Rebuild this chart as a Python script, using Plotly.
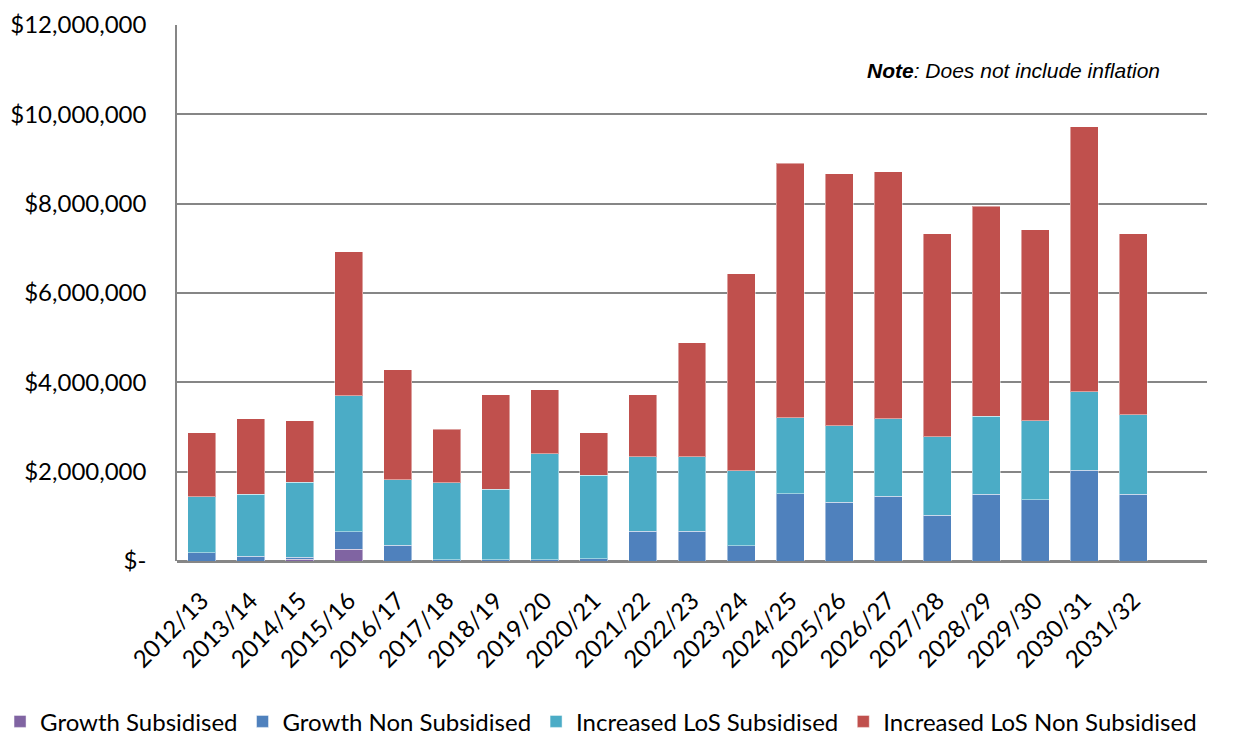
import plotly.graph_objects as go

years = ["2012/13", "2013/14", "2014/15", "2015/16", "2016/17", "2017/18", "2018/19",
         "2019/20", "2020/21", "2021/22", "2022/23", "2023/24", "2024/25", "2025/26",
         "2026/27", "2027/28", "2028/29", "2029/30", "2030/31", "2031/32"]

growth_subsidised = [0, 0, 0.04e6, 0.26e6, 0, 0, 0, 0, 0, 0,
                     0, 0, 0, 0, 0, 0, 0, 0, 0, 0]
growth_non_subsidised = [0.18e6, 0.11e6, 0.04e6, 0.40e6, 0.35e6, 0.03e6, 0.03e6, 0.03e6, 0.05e6, 0.67e6,
                         0.67e6, 0.34e6, 1.51e6, 1.32e6, 1.45e6, 1.02e6, 1.50e6, 1.37e6, 2.03e6, 1.50e6]
los_subsidised = [1.26e6, 1.38e6, 1.68e6, 3.04e6, 1.47e6, 1.72e6, 1.58e6, 2.37e6, 1.87e6, 1.66e6,
                  1.66e6, 1.68e6, 1.70e6, 1.71e6, 1.73e6, 1.76e6, 1.74e6, 1.77e6, 1.76e6, 1.77e6]
los_non_subsidised = [1.43e6, 1.69e6, 1.38e6, 3.22e6, 2.46e6, 1.20e6, 2.11e6, 1.43e6, 0.95e6, 1.39e6,
                      2.56e6, 4.41e6, 5.70e6, 5.64e6, 5.54e6, 4.55e6, 4.70e6, 4.28e6, 5.93e6, 4.06e6]

y_tick_values = [0, 2e6, 4e6, 6e6, 8e6, 10e6, 12e6]
y_tick_labels = ["$-", "$2,000,000", "$4,000,000", "$6,000,000", "$8,000,000",
                 "$10,000,000", "$12,000,000"]

series = [
    ("Growth Subsidised", growth_subsidised, "#8064A2"),
    ("Growth Non Subsidised", growth_non_subsidised, "#4F81BD"),
    ("Increased LoS Subsidised", los_subsidised, "#4BACC6"),
    ("Increased LoS Non Subsidised", los_non_subsidised, "#C0504D"),
]

FONT = "Lato, Carlito, Calibri, sans-serif"

fig = go.Figure()
for name, vals, color in series:
    fig.add_trace(go.Bar(
        x=years, y=vals, name=name,
        marker=dict(color=color, line=dict(color="rgba(255,255,255,0.45)", width=1)),
    ))

fig.update_layout(
    barmode="stack",
    bargap=0.43,
    width=1244, height=735,
    margin=dict(l=177, r=37, t=25, b=174, autoexpand=False),
    plot_bgcolor="white", paper_bgcolor="white",
    font=dict(family=FONT, size=24, color="black"),
    showlegend=True,
    legend=dict(
        orientation="h",
        x=-0.1718, y=-0.30, xanchor="left", yanchor="middle",
        font=dict(family=FONT, size=24, color="black"),
        traceorder="normal", itemwidth=30,
    ),
    annotations=[dict(
        x=0.956, y=0.916, xref="paper", yref="paper",
        xanchor="right", yanchor="middle", showarrow=False,
        text="<b><i>Note</i></b><i>: Does not include inflation</i>",
        font=dict(family="Liberation Sans, Arial, sans-serif", size=21, color="black"),
    )],
)

fig.update_xaxes(
    type="category", categoryorder="array", categoryarray=years,
    range=[-0.5, 20.5], tickangle=-45,
    showgrid=False, showline=False, ticks="",
    ticklabelstandoff=20,
    tickfont=dict(family=FONT, size=24),
)
fig.update_yaxes(
    range=[0, 12e6], tickvals=y_tick_values, ticktext=y_tick_labels,
    showgrid=True, gridcolor="#868686", gridwidth=1.5,
    showline=True, linecolor="#868686", linewidth=1.5,
    zeroline=True, zerolinecolor="#868686", zerolinewidth=2.5,
    ticks="", ticklabelstandoff=24,
    tickfont=dict(family=FONT, size=24),
)

fig.write_html("out.html")
